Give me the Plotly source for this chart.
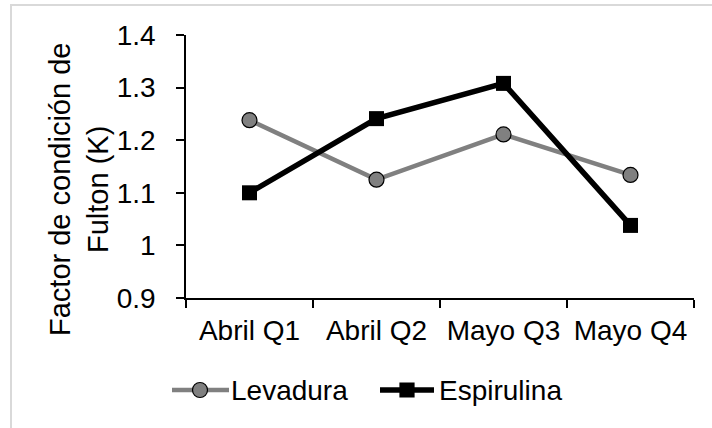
import plotly.graph_objects as go

# Fulton condition factor (K) per sampling fortnight
categories = ["Abril Q1", "Abril Q2", "Mayo Q3", "Mayo Q4"]
levadura = [1.238, 1.125, 1.211, 1.134]
espirulina = [1.100, 1.241, 1.308, 1.038]
y_ticks = [0.9, 1.0, 1.1, 1.2, 1.3, 1.4]
y_tick_text = ["0.9", "1", "1.1", "1.2", "1.3", "1.4"]

W, H = 712, 428
L, R, T, B = 186, 18, 35, 130
PW, PH = W - L - R, H - T - B

FONT = "Liberation Sans, Arial, sans-serif"
FS = 28
GRAY = "#808080"


def px(x):
    return (x - L) / PW


def py(y):
    return 1 - (y - T) / PH


fig = go.Figure()
fig.add_trace(go.Scatter(
    x=categories, y=levadura, name="Levadura", mode="lines+markers",
    line=dict(color=GRAY, width=4.5),
    marker=dict(symbol="circle", size=15, color=GRAY,
                line=dict(color="black", width=1.2)),
))
fig.add_trace(go.Scatter(
    x=categories, y=espirulina, name="Espirulina", mode="lines+markers",
    line=dict(color="black", width=5.5),
    marker=dict(symbol="square", size=15, color="black",
                line=dict(color="black", width=0)),
))

shapes = [
    # outer frame of the chart area
    dict(type="rect", xref="paper", yref="paper",
         x0=px(11), x1=1.2, y0=-0.6, y1=py(5),
         line=dict(color="#d9d9d9", width=2), fillcolor="rgba(0,0,0,0)",
         layer="below"),
]

# legend built from shapes and text
leg_y = 390
legend_items = [
    dict(name="Levadura", x0=172, x1=229, xm=200, tx=229, color=GRAY,
         width=4.5, sym="circle", r=7.5),
    dict(name="Espirulina", x0=380, x1=434, xm=407, tx=437, color="black",
         width=5.5, sym="rect", r=7),
]
annotations = []
for it in legend_items:
    shapes.append(dict(type="line", xref="paper", yref="paper",
                       x0=px(it["x0"]), x1=px(it["x1"]),
                       y0=py(leg_y), y1=py(leg_y),
                       line=dict(color=it["color"], width=it["width"])))
    shapes.append(dict(type=it["sym"], xref="paper", yref="paper",
                       xsizemode="pixel", ysizemode="pixel",
                       xanchor=px(it["xm"]), yanchor=py(leg_y),
                       x0=-it["r"], x1=it["r"], y0=-it["r"], y1=it["r"],
                       fillcolor=it["color"],
                       line=dict(color="black", width=1.2)))
    annotations.append(dict(text=it["name"], xref="paper", yref="paper",
                            x=px(it["tx"]), y=py(leg_y),
                            xanchor="left", yanchor="middle",
                            showarrow=False,
                            font=dict(family=FONT, size=FS, color="black")))

# rotated axis title
annotations.append(dict(text="Factor de condición de<br>Fulton (K)",
                        xref="paper", yref="paper",
                        x=px(79), y=py(190), xanchor="center",
                        yanchor="middle", textangle=-90, showarrow=False,
                        font=dict(family=FONT, size=29, color="black")))

fig.update_layout(
    width=W, height=H,
    margin=dict(l=L, r=R, t=T, b=B, pad=0),
    paper_bgcolor="white", plot_bgcolor="white",
    showlegend=False,
    font=dict(family=FONT, size=FS, color="black"),
    shapes=shapes, annotations=annotations,
    xaxis=dict(
        type="category", range=[-0.5, 3.5],
        showline=True, linecolor="black", linewidth=1.5,
        ticks="outside", ticklen=8, tickwidth=1.5, tickcolor="black",
        tickson="boundaries", showgrid=False, zeroline=False,
        ticklabelstandoff=7,
        tickfont=dict(family=FONT, size=FS, color="black"),
    ),
    yaxis=dict(
        range=[0.9, 1.4], tickvals=y_ticks, ticktext=y_tick_text,
        showline=True, linecolor="black", linewidth=1.5,
        ticks="outside", ticklen=8, tickwidth=1.5, tickcolor="black",
        showgrid=False, zeroline=False, ticklabelstandoff=15,
        tickfont=dict(family=FONT, size=FS, color="black"),
    ),
)

fig.write_html("out.html")
